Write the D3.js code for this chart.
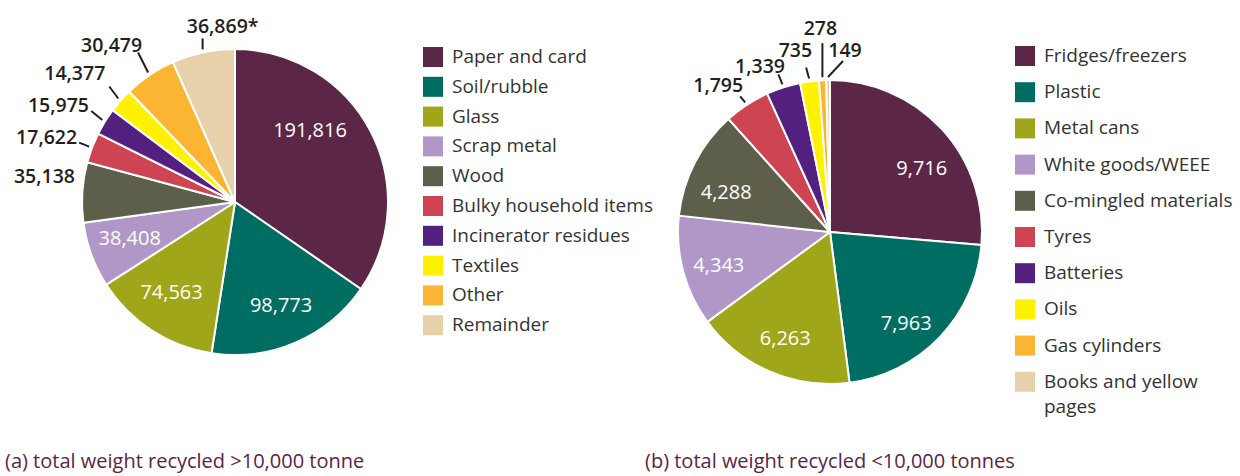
<!DOCTYPE html>
<html><head><meta charset="utf-8">
<script src="https://cdn.jsdelivr.net/npm/d3@7"></script>
<style>
html,body{margin:0;padding:0;background:#fff;}
svg{display:block;font-family:"Open Sans","Noto Sans",sans-serif;}
</style>
</head><body>
<svg id="chart" width="1240" height="476"></svg>
<script>
// ---------------- data ----------------
const leftCategories = ["Paper and card","Soil/rubble","Glass","Scrap metal","Wood","Bulky household items","Incinerator residues","Textiles","Other","Remainder"];
const leftValues = [191816, 98773, 74563, 38408, 35138, 17622, 15975, 14377, 30479, 36869];
const leftFootnotes = ["","","","","","","","","","*"];

const rightCategories = ["Fridges/freezers","Plastic","Metal cans","White goods/WEEE","Co-mingled materials","Tyres","Batteries","Oils","Gas cylinders","Books and yellow pages"];
const rightValues = [9716, 7963, 6263, 4343, 4288, 1795, 1339, 735, 278, 149];
const rightFootnotes = ["","","","","","","","","",""];

const sliceColors = ["#5c2746","#006d63","#a0a619","#b197c7","#5e5f4a","#cf4452","#532080","#fff200","#fbb532","#e7d1ab"];
const captions = ["(a) total weight recycled >10,000 tonne","(b) total weight recycled <10,000 tonnes"];

// ---------------- layout (positions/styles only) ----------------
const leftLayout = {
  cx: 235, cy: 202, r: 153, innerR: 109,
  legendX: 423, legendY: 47, legendStep: 29.8, legendWrap: 400,
  inside: {0:[-21.5,-21.3], 1:[3,3], 2:[-4,-2], 3:[-3,-2]},
  outside: {
    4:{vec:null, t:[-4.3,-9.1], anchor:"end"},
    5:{vec:[-10,-4], t:[-2,1], anchor:"end"},
    6:{vec:[-11,-9], t:[-2.3,1], anchor:"end"},
    7:{vec:[-9,-12], t:[-4,-6.6], anchor:"end"},
    8:{vec:[-10,-20], t:[4,-0.4], anchor:"end"},
    9:{vec:[0,-11], t:[20,-5.4], anchor:"middle"}
  }
};
const rightLayout = {
  cx: 830, cy: 232, r: 152, innerR: 111,
  legendX: 1015, legendY: 46, legendStep: 36.2, legendWrap: 196,
  inside: {0:[10,11], 1:[-4,14], 2:[-1,4], 3:[-4,4], 4:[-5,10]},
  outside: {
    5:{vec:[-5,-6], t:[3,-4.3], anchor:"end"},
    6:{vec:[-4,-10], t:[6.6,-1.5], anchor:"end"},
    7:{vec:[-3,-11], t:[6,-10.4], anchor:"end"},
    8:{vec:[0,-34], t:[-2,-8.2], anchor:"middle"},
    9:{vec:[15,-16], t:[2,-4], anchor:"middle"}
  }
};

const svg = d3.select("#chart");
const fmt = d3.format(",");

function drawPie(cats, vals, notes, L){
  const g = svg.append("g").attr("transform", `translate(${L.cx},${L.cy})`);
  const arcs = d3.pie().sort(null).value(d => d)(vals);
  const arc = d3.arc().innerRadius(0).outerRadius(L.r);
  const color = d3.scaleOrdinal().domain(cats).range(sliceColors);

  g.selectAll("path.slice").data(arcs).join("path")
    .attr("class","slice")
    .attr("d", arc)
    .attr("fill", (d,i) => color(cats[i]))
    .attr("stroke", "#fff")
    .attr("stroke-width", 2)
    .attr("stroke-linejoin","round");

  const pt = (a, rad) => [rad*Math.sin(a), -rad*Math.cos(a)];

  // inside labels
  arcs.forEach((d,i) => {
    const n = L.inside[i];
    if(!n) return;
    const mid = (d.startAngle + d.endAngle)/2;
    const p = pt(mid, L.innerR);
    g.append("text")
      .attr("x", p[0] + n[0]).attr("y", p[1] + n[1])
      .attr("dy","0.36em")
      .attr("text-anchor","middle")
      .attr("fill","#fff")
      .attr("font-size", 20)
      .attr("font-weight", 500)
      .text(fmt(vals[i]) + notes[i]);
  });

  // outside labels with leaders
  arcs.forEach((d,i) => {
    const o = L.outside[i];
    if(!o) return;
    const mid = (d.startAngle + d.endAngle)/2;
    const s = pt(mid, L.r + 3);
    let e = s;
    if(o.vec){
      e = [s[0] + o.vec[0], s[1] + o.vec[1]];
      g.append("line")
        .attr("x1", s[0]).attr("y1", s[1]).attr("x2", e[0]).attr("y2", e[1])
        .attr("stroke","#231f20").attr("stroke-width",2);
    }
    g.append("text")
      .attr("x", e[0] + o.t[0]).attr("y", e[1] + o.t[1])
      .attr("text-anchor", o.anchor)
      .attr("fill","#231f20")
      .attr("font-size", 19.5)
      .attr("font-weight", 600)
      .text(fmt(vals[i]) + notes[i]);
  });

  // legend
  const lg = svg.append("g");
  cats.forEach((c,i) => {
    const y = L.legendY + i*L.legendStep;
    lg.append("rect").attr("x", L.legendX).attr("y", y).attr("width",20).attr("height",20)
      .attr("fill", color(c));
    const t = lg.append("text").attr("x", L.legendX + 29).attr("y", y + 16)
      .attr("fill","#333").attr("font-size",19);
    const words = c.split(" ");
    let line = [];
    let tspan = t.append("tspan").attr("x", L.legendX + 29).attr("dy", 0);
    words.forEach(w => {
      line.push(w);
      tspan.text(line.join(" "));
      if(tspan.node().getComputedTextLength() > L.legendWrap && line.length > 1){
        line.pop();
        tspan.text(line.join(" "));
        line = [w];
        tspan = t.append("tspan").attr("x", L.legendX + 29).attr("dy", 25).text(w);
      }
    });
  });
}

drawPie(leftCategories, leftValues, leftFootnotes, leftLayout);
drawPie(rightCategories, rightValues, rightFootnotes, rightLayout);

// captions
const capX = [5, 645];
captions.forEach((c,i) => {
  svg.append("text").attr("x", capX[i]).attr("y", 468)
    .attr("fill","#5a2548").attr("font-size",20)
    .text(c);
});
</script>
</body></html>
